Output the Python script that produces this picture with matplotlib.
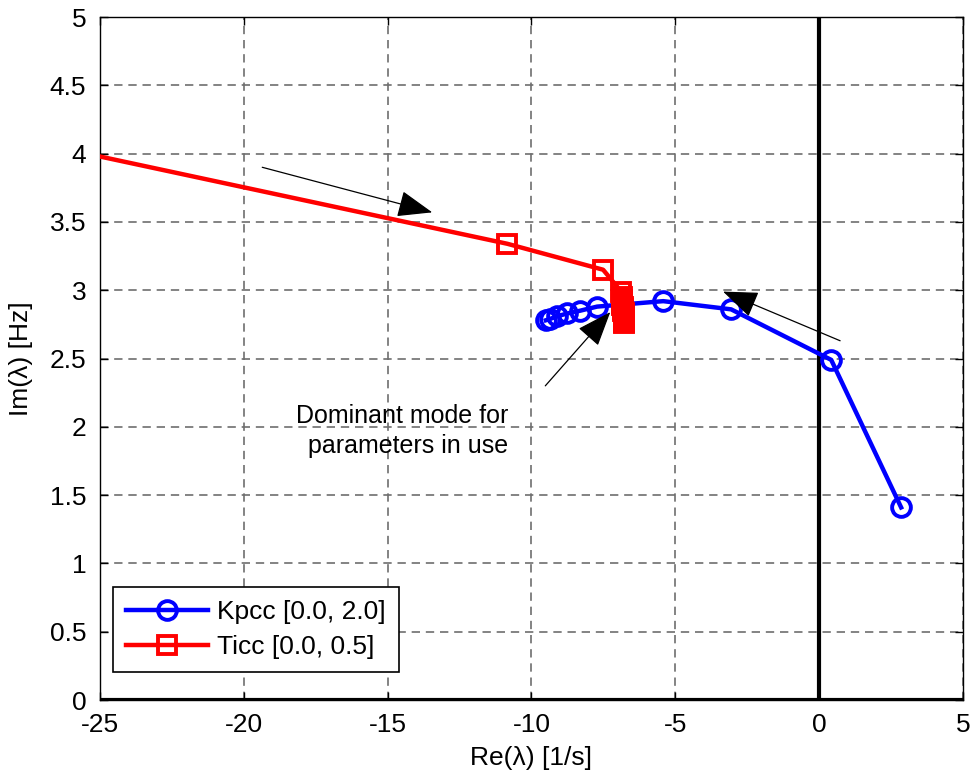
import matplotlib
matplotlib.use("Agg")
import matplotlib.pyplot as plt

plt.rcParams['font.family'] = ['Liberation Sans', 'DejaVu Sans']
plt.rcParams['font.size'] = 19

# root locus of the dominant mode, Kpcc swept over [0, 2]
kpcc_re = [2.85, 0.42, -3.06, -5.42, -7.72, -8.31, -8.75, -9.10, -9.35, -9.50]
kpcc_im = [1.41, 2.49, 2.86, 2.92, 2.88, 2.85, 2.83, 2.81, 2.79, 2.78]

# Ticc swept over [0, 0.5]; first point lies left of the visible range
ticc_re = [-35.0, -10.84, -7.51, -6.88, -6.87, -6.86, -6.85, -6.84, -6.83,
           -6.82, -6.81, -6.80, -6.80, -6.79, -6.79, -6.78, -6.78, -6.78]
ticc_im = [4.43, 3.34, 3.15, 2.99, 2.95, 2.93, 2.91, 2.89, 2.875,
           2.86, 2.845, 2.83, 2.815, 2.80, 2.79, 2.78, 2.77, 2.76]

xticks = [-25, -20, -15, -10, -5, 0, 5]
yticks = [0, 0.5, 1, 1.5, 2, 2.5, 3, 3.5, 4, 4.5, 5]

fig = plt.figure(figsize=(9.72, 7.74), dpi=100)
ax = fig.add_axes([0.1029, 0.0956, 0.8878, 0.8824])

ax.axvline(0, color='black', lw=3, zorder=2)
ax.axhline(0, color='black', lw=3, zorder=2)

ax.plot(kpcc_re, kpcc_im, '-o', color='blue', lw=3.2, ms=13.5, mew=2.8,
        mfc='none', label='Kpcc [0.0, 2.0]', zorder=3)
ax.plot(ticc_re, ticc_im, '-s', color='red', lw=3.2, ms=12.5, mew=2.8,
        mfc='none', label='Ticc [0.0, 0.5]', zorder=4)

arrow = dict(arrowstyle='-|>,head_length=1.1,head_width=0.42', color='black',
             lw=0.9, shrinkA=0, shrinkB=0, mutation_scale=20)
ax.annotate('', xy=(-13.45, 3.57), xytext=(-19.36, 3.90), arrowprops=arrow)
ax.annotate('', xy=(-3.34, 2.99), xytext=(0.73, 2.63), arrowprops=arrow)
ax.annotate('', xy=(-7.26, 2.84), xytext=(-9.52, 2.30), arrowprops=arrow)
ax.text(-10.81, 1.97, 'Dominant mode for\nparameters in use', ha='right',
        va='center', multialignment='right', linespacing=1.3, fontsize=18)

ax.set_xlim(-25, 5)
ax.set_ylim(0, 5)
ax.set_xticks(xticks)
ax.set_yticks(yticks)
ax.set_xticklabels([str(t) for t in xticks])
ax.set_yticklabels(['0', '0.5', '1', '1.5', '2', '2.5', '3', '3.5', '4', '4.5', '5'])
ax.tick_params(direction='in', top=True, right=True, length=6, width=1)
ax.tick_params(axis='x', pad=9)
ax.tick_params(axis='y', pad=10)
ax.grid(True, color='#6e6e6e', ls=(0, (5, 3.5)), lw=1.2)
for s in ax.spines.values():
    s.set_linewidth(1)

ax.set_xlabel('Re(λ) [1/s]', labelpad=7)
ax.set_ylabel('Im(λ) [Hz]', labelpad=12)

leg = ax.legend(loc='lower left', bbox_to_anchor=(0.015, 0.041), borderaxespad=0,
                fancybox=False, edgecolor='black', framealpha=1, borderpad=0.5,
                handlelength=3.1, handletextpad=0.35, labelspacing=0.4)
leg.get_frame().set_linewidth(1.2)

fig.savefig('out.png', dpi=100)
